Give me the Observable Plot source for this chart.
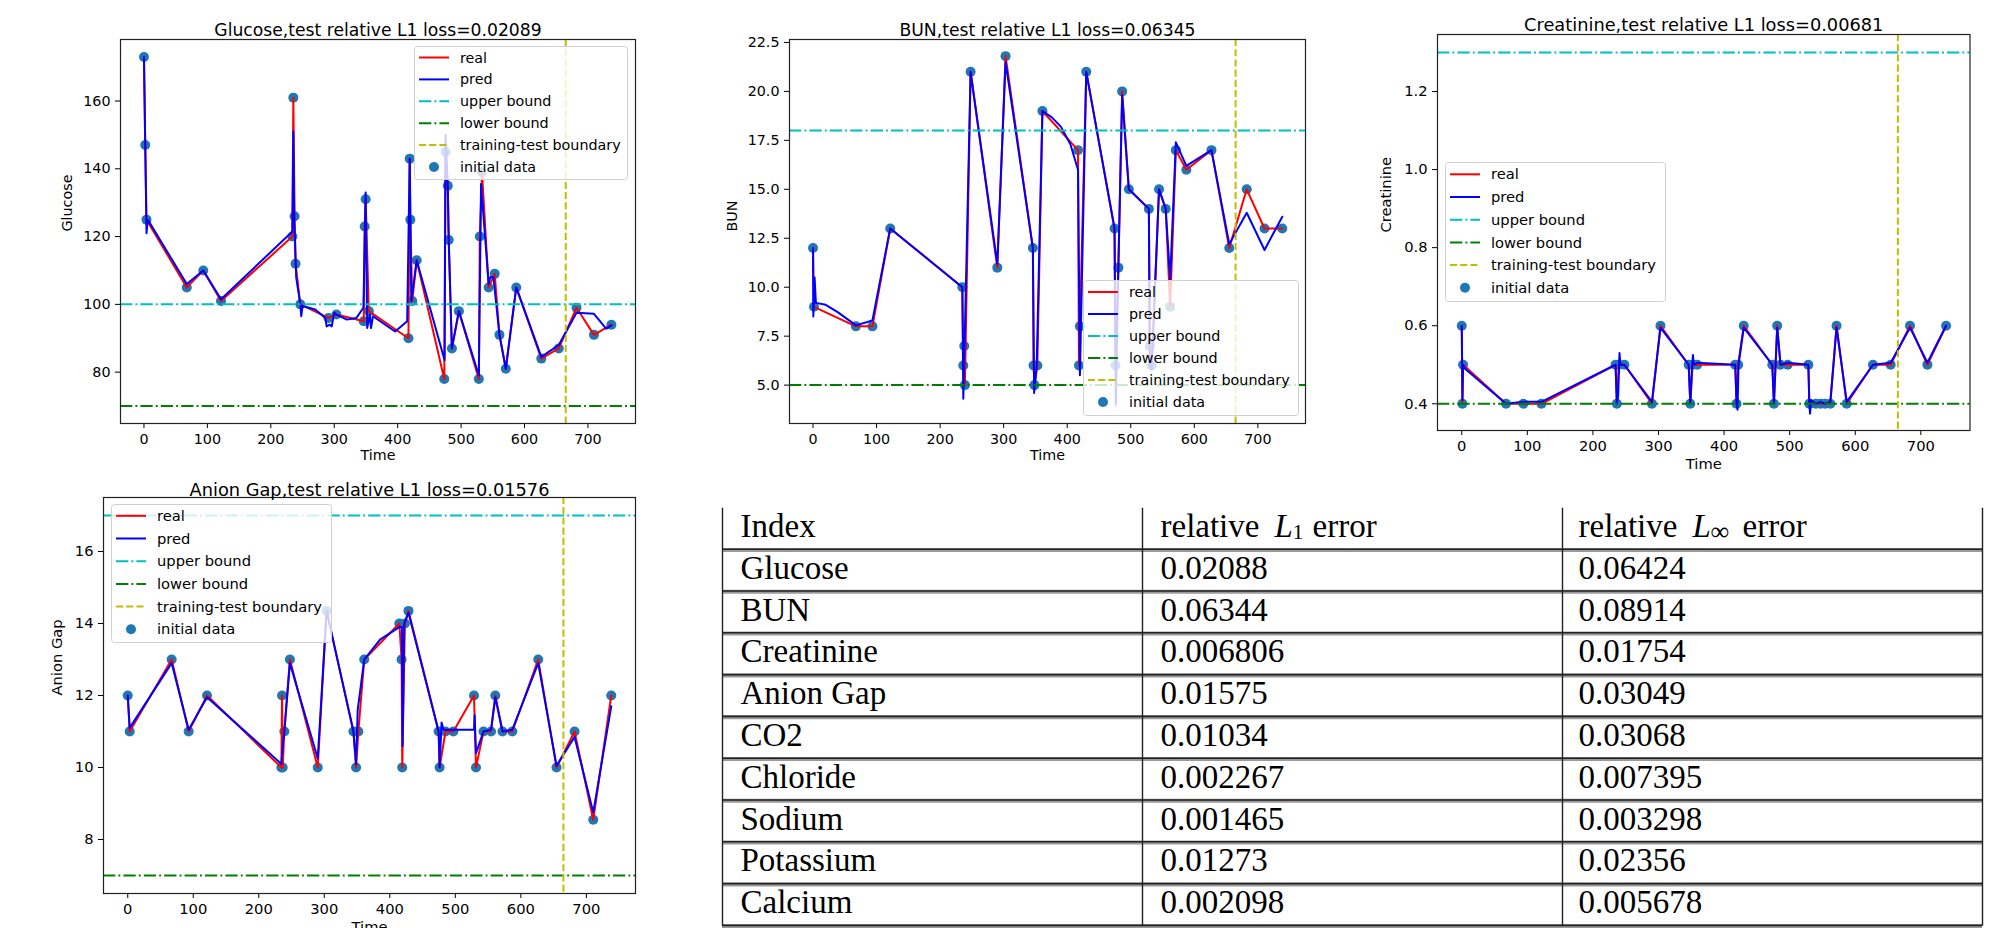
<!DOCTYPE html>
<html><head><meta charset="utf-8">
<script src="https://cdn.jsdelivr.net/npm/d3@7"></script>
<script src="https://cdn.jsdelivr.net/npm/@observablehq/plot@0.6"></script>
<style>
html,body{margin:0;padding:0;background:#fff;}
body{width:2010px;height:928px;position:relative;overflow:hidden;font-family:"DejaVu Sans";}
.panel{position:absolute;overflow:hidden;}
.panel svg{position:absolute;max-width:none;}
</style></head><body>
<script>
// ---------- data ----------
const xTicks = [0, 100, 200, 300, 400, 500, 600, 700];
const boundaryTime = 665;
const legendLabels = ["real", "pred", "upper bound", "lower bound", "training-test boundary", "initial data"];

// Glucose
const glucoseT = [0, 2, 4, 67.5, 93.5, 121.5, 234, 235.5, 237.5, 239, 246.5, 291, 303.5, 346.5, 348, 349.5, 354.5, 417, 419, 420, 423, 430, 473.5, 475.5, 479, 480.5, 485.5, 496.5, 528, 529.5, 533, 543.5, 553, 560.5, 570.5, 587, 626.5, 654, 682, 709.5, 737];
const glucoseV = [173, 147, 125, 105, 110, 101, 120, 161, 126, 112, 100, 96, 97, 95, 123, 131, 98, 90, 143, 125, 101, 113, 78, 145, 135, 119, 87, 98, 78, 120, 139, 105, 109, 91, 81, 105, 84, 87, 99, 91, 94];
const glucosePredT = [0, 2, 4, 6, 67.5, 93.5, 121.5, 234, 235.5, 237, 240, 246.5, 248, 250, 270, 286, 288, 293, 296, 300, 303.5, 320, 335, 346, 349.5, 352, 356, 358, 361, 396, 415, 419, 421.5, 430, 474, 475.5, 479, 480.5, 485.5, 496.5, 528, 531.5, 543.5, 546, 551, 560.5, 570.5, 587, 626.5, 654, 682, 709.5, 729, 737];
const glucosePredV = [173, 147, 121, 125, 106, 110, 101.5, 121.5, 151, 125, 108, 100, 96.5, 99.5, 98.5, 96, 93.5, 94, 93.5, 97.5, 97, 95.5, 96, 99, 133, 93, 97, 93, 96.5, 92, 95, 143, 101, 113, 83.5, 150, 135, 119, 87, 98, 79, 135.5, 106, 108, 108, 91, 81, 105, 84.5, 88, 97.5, 97.2, 92.8, 93.8];
const glucoseBounds = [100, 70];
const glucoseTicks = [80, 100, 120, 140, 160];

// BUN
const bunT = [0, 1.5, 67.5, 93.5, 121.5, 235, 236.5, 238, 239, 248, 290, 303, 346, 347, 348.5, 353, 361, 417, 418.5, 420, 430, 474.5, 476, 480.5, 486.5, 497, 528.5, 530, 533, 544.5, 555, 562, 571, 587.5, 627, 655, 682.5, 710.5, 738.5];
const bunV = [12, 9, 8, 8, 13, 10, 6, 7, 5, 21, 11, 21.8, 12, 6, 5, 6, 19, 17, 6, 8, 21, 13, 6, 11, 20, 15, 14, 7, 6, 15, 14, 9, 17, 16, 17, 12, 15, 13, 13];
const bunPredT = [0, 0.5, 2.5, 4.5, 20, 40, 67.5, 93.5, 121.5, 235, 236.5, 238.5, 248, 290, 303, 346, 348, 352, 361, 375, 390, 405, 417, 420, 430, 474.5, 476.5, 480.5, 486.5, 497, 528.5, 530, 533, 544.5, 555, 562, 571, 587.5, 627, 655, 682.5, 710.5, 738.5];
const bunPredV = [12, 8.5, 10.5, 9.2, 9.1, 8.7, 8.05, 8.3, 13, 10, 4.3, 7, 21, 11.2, 21.5, 12, 4.6, 6, 19, 18.7, 18.2, 17.3, 16, 5.5, 21, 13, 4, 11, 19.8, 15, 14, 6, 5.8, 15, 14, 10.4, 17.4, 16.2, 17, 12.2, 13.8, 11.9, 13.6];
const bunBounds = [18, 5];
const bunTicks = [5, 7.5, 10, 12.5, 15, 17.5, 20, 22.5];

// Creatinine
const creatT = [0, 1, 2, 67.5, 94, 121.5, 234.5, 236.5, 239.5, 248, 290, 303, 346, 348.5, 352, 359, 417, 419, 421.5, 430, 473.5, 476, 481, 486, 497, 528.5, 530, 540, 547, 554, 562, 571.5, 587, 627, 654, 683.5, 710, 738.5];
const creatV = [0.6, 0.4, 0.5, 0.4, 0.4, 0.4, 0.5, 0.4, 0.5, 0.5, 0.4, 0.6, 0.5, 0.4, 0.5, 0.5, 0.5, 0.4, 0.5, 0.6, 0.5, 0.4, 0.6, 0.5, 0.5, 0.5, 0.4, 0.4, 0.4, 0.4, 0.4, 0.6, 0.4, 0.5, 0.5, 0.6, 0.5, 0.6];
const creatPredT = [0, 1, 2, 5, 67.5, 94, 121.5, 234.5, 236.5, 238.5, 240.5, 242, 248, 290, 303, 346, 348.5, 351, 352.5, 354, 359, 417, 419, 420.5, 422, 430, 473.5, 476, 481, 486, 497, 528.5, 530, 531, 533, 540, 547, 554, 562, 571.5, 587, 627, 654, 683.5, 710, 738.5];
const creatPredV = [0.6, 0.41, 0.5, 0.49, 0.4, 0.405, 0.405, 0.5, 0.4, 0.42, 0.53, 0.5, 0.5, 0.405, 0.595, 0.5, 0.4, 0.49, 0.525, 0.5, 0.505, 0.5, 0.4, 0.385, 0.5, 0.595, 0.5, 0.4, 0.595, 0.5, 0.505, 0.5, 0.4, 0.375, 0.41, 0.4, 0.405, 0.4, 0.405, 0.595, 0.405, 0.5, 0.505, 0.595, 0.505, 0.6];
const creatBounds = [1.3, 0.4];
const creatTicks = [0.4, 0.6, 0.8, 1.0, 1.2];

// Anion Gap
const anionT = [0, 3, 67, 93, 121, 234.5, 235.5, 236.5, 239, 247.5, 290, 303.5, 344.5, 348.5, 352, 361, 414.5, 418, 419, 423, 428.5, 474.5, 476, 485, 497, 528.5, 531.5, 543, 554.5, 561, 572, 587, 626.5, 654.5, 682, 710.5, 738];
const anionV = [12, 11, 13, 11, 12, 10, 12, 10, 11, 13, 10, 14.35, 11, 10, 11, 13, 14, 13, 10, 14, 14.35, 11, 10, 11, 11, 12, 10, 11, 11, 12, 11, 11, 13, 10, 11, 8.55, 12];
const anionPredT = [0, 3, 67, 93, 121, 234.5, 237, 239, 247.5, 290, 303.5, 344.5, 348.5, 351, 361, 385, 414.5, 418.5, 419.5, 422, 428.5, 474.5, 476, 479, 482, 528.5, 529.5, 531.5, 543, 554.5, 561, 572, 587, 626.5, 654.5, 682, 710.5, 738];
const anionPredV = [12, 11.1, 12.9, 11.05, 11.95, 10.1, 10.7, 11, 12.9, 10.25, 14.35, 11, 10.1, 11.6, 13, 13.55, 13.9, 13.9, 10.6, 14, 14.3, 11, 10, 11.25, 11.05, 11.05, 11.45, 10.4, 11, 11.05, 11.95, 11, 11.05, 12.9, 10.05, 10.85, 8.75, 11.7];
const anionBounds = [17, 7];
const anionTicks = [8, 10, 12, 14, 16];

// Table
const tableIndex = ["Glucose", "BUN", "Creatinine", "Anion Gap", "CO2", "Chloride", "Sodium", "Potassium", "Calcium"];
const tableL1 = ["0.02088", "0.06344", "0.006806", "0.01575", "0.01034", "0.002267", "0.001465", "0.01273", "0.002098"];
const tableLinf = ["0.06424", "0.08914", "0.01754", "0.03049", "0.03068", "0.007395", "0.003298", "0.02356", "0.005678"];
const tableHeadIndex = "Index";
const tableHeadWord = "relative";
const tableHeadVar = "L";
const tableHeadSubs = ["1", "\u221E"];
const tableHeadTail = "error";

// ---------- drawing ----------
const zipRows = (T, V) => T.map((t, i) => ({t, v: V[i]}));
const dashDot = "12.3,3.1,1.9,3.1";
const dashed = "7.1,3.1";

function panel(cfg) {
  const real = zipRows(cfg.T, cfg.V);
  const pred = zipRows(cfg.PT, cfg.PV);
  const chart = Plot.plot({
    width: cfg.w, height: cfg.h,
    marginLeft: cfg.ml, marginRight: cfg.mr, marginTop: cfg.mt, marginBottom: cfg.mb,
    style: {fontFamily: "DejaVu Sans", fontSize: cfg.fs + "px", color: "#000", background: "transparent", overflow: "visible", maxWidth: "none"},
    x: {domain: [-37, 775], ticks: xTicks, tickFormat: "d", tickSize: 5, tickPadding: 5, label: null},
    y: {domain: cfg.ydomain, ticks: cfg.yticks, tickFormat: cfg.yfmt, tickSize: 5, tickPadding: 5, label: null},
    marks: [
      Plot.dot(real, {x: "t", y: "v", r: 5, fill: "#1f77b4"}),
      Plot.line(real, {x: "t", y: "v", stroke: "#ff0000", strokeWidth: 2}),
      Plot.line(pred, {x: "t", y: "v", stroke: "#0000ff", strokeWidth: 2}),
      Plot.ruleY([cfg.bounds[0]], {stroke: "#00bfbf", strokeWidth: 2, strokeDasharray: dashDot}),
      Plot.ruleY([cfg.bounds[1]], {stroke: "#008000", strokeWidth: 2, strokeDasharray: dashDot}),
      Plot.ruleX([boundaryTime], {stroke: "#bfbf00", strokeWidth: 2, strokeDasharray: dashed}),
      Plot.frame({stroke: "#222", strokeWidth: 1.2}),
      Plot.text([cfg.title], {text: d => d, frameAnchor: "top", dy: cfg.titleDy, fontSize: cfg.tfs}),
      Plot.text(["Time"], {text: d => d, frameAnchor: "bottom", dy: cfg.xlDy}),
      Plot.text([cfg.ylabel], {text: d => d, frameAnchor: "left", dx: cfg.ylDx, rotate: -90})
    ]
  });
  const box = document.createElement("div");
  box.className = "panel";
  Object.assign(box.style, {left: cfg.left + "px", top: cfg.top + "px", width: cfg.w + "px", height: cfg.boxH + "px"});
  chart.style.left = "0px";
  chart.style.top = (cfg.svgTop || 0) + "px";
  box.appendChild(chart);
  document.body.appendChild(box);
}

function legend(lg) {
  const svg = d3.select("body").append("svg")
    .style("position", "absolute").style("left", lg.left + "px").style("top", lg.top + "px")
    .attr("width", lg.w).attr("height", lg.h);
  svg.append("rect").attr("x", 0.5).attr("y", 0.5).attr("width", lg.w - 1).attr("height", lg.h - 1)
    .attr("rx", 3).attr("fill", "rgba(255,255,255,0.8)").attr("stroke", "#d0d0d0");
  const styles = [
    {stroke: "#ff0000"}, {stroke: "#0000ff"},
    {stroke: "#00bfbf", dash: dashDot}, {stroke: "#008000", dash: dashDot},
    {stroke: "#bfbf00", dash: dashed}, {dot: true}
  ];
  legendLabels.forEach((lab, i) => {
    const y = lg.first + i * lg.gap;
    const s = styles[i];
    if (s.dot) {
      svg.append("circle").attr("cx", 20).attr("cy", y).attr("r", 5).attr("fill", "#1f77b4");
    } else {
      svg.append("line").attr("x1", 5).attr("x2", 35).attr("y1", y).attr("y2", y)
        .attr("stroke", s.stroke).attr("stroke-width", 2).attr("stroke-dasharray", s.dash || null);
    }
    svg.append("text").attr("x", 46).attr("y", y).attr("dy", "0.35em")
      .attr("font-family", "DejaVu Sans").attr("font-size", lg.fs).attr("fill", "#000").text(lab);
  });
}

panel({title: "Glucose,test relative L1 loss=0.02089", ylabel: "Glucose",
  T: glucoseT, V: glucoseV, PT: glucosePredT, PV: glucosePredV, bounds: glucoseBounds,
  ydomain: [64.85, 178.15], yticks: glucoseTicks, yfmt: "d",
  left: 0, top: 0, w: 660, h: 476, boxH: 476, ml: 120, mr: 25, mt: 39, mb: 53,
  fs: 14.3, tfs: 17.2, titleDy: -16, xlDy: 36, ylDx: -53});

panel({title: "BUN,test relative L1 loss=0.06345", ylabel: "BUN",
  T: bunT, V: bunV, PT: bunPredT, PV: bunPredV, bounds: bunBounds,
  ydomain: [3.04, 22.65], yticks: bunTicks, yfmt: ".1f",
  left: 700, top: 0, w: 630, h: 476, boxH: 476, ml: 89, mr: 25, mt: 39, mb: 53,
  fs: 14.3, tfs: 17.2, titleDy: -16, xlDy: 36, ylDx: -57});

panel({title: "Creatinine,test relative L1 loss=0.00681", ylabel: "Creatinine",
  T: creatT, V: creatV, PT: creatPredT, PV: creatPredV, bounds: creatBounds,
  ydomain: [0.3316, 1.346], yticks: creatTicks, yfmt: ".1f",
  left: 1340, top: 0, w: 670, h: 476, boxH: 476, ml: 97, mr: 40.5, mt: 34, mb: 46,
  fs: 14.7, tfs: 17.8, titleDy: -16, xlDy: 38, ylDx: -51});

panel({title: "Anion Gap,test relative L1 loss=0.01576", ylabel: "Anion Gap",
  T: anionT, V: anionV, PT: anionPredT, PV: anionPredV, bounds: anionBounds,
  ydomain: [6.5, 17.5], yticks: anionTicks, yfmt: "d",
  left: 0, top: 480, w: 660, h: 480, boxH: 448, svgTop: -20, ml: 103, mr: 25, mt: 37, mb: 47,
  fs: 14.7, tfs: 17.8, titleDy: -14, xlDy: 38, ylDx: -46});

legend({left: 414, top: 46, w: 214, h: 134, first: 11.5, gap: 21.9, fs: 14.3});
legend({left: 1083, top: 280, w: 216, h: 136, first: 12, gap: 22, fs: 14.3});
legend({left: 1445, top: 162, w: 221, h: 140, first: 12.3, gap: 22.7, fs: 14.7});
legend({left: 111, top: 504, w: 221, h: 139, first: 11.8, gap: 22.7, fs: 14.7});

// table
const tableRows = tableIndex.map((name, i) => ({row: i + 1, name, l1: tableL1[i], linf: tableLinf[i]}));
const rowY = d => d.row + 0.5;
const tbl = Plot.plot({
  width: 1300, height: 428, marginLeft: 22, marginRight: 18, marginTop: 7.7, marginBottom: 2.3,
  x: {domain: [0, 3], axis: null}, y: {domain: [0, 10], reverse: true, axis: null},
  style: {fontFamily: "Liberation Serif", fontSize: "33px", color: "#000", background: "transparent", overflow: "visible", maxWidth: "none"},
  marks: [
    Plot.ruleY(d3.range(1, 11), {stroke: "#9a9a9a", strokeWidth: 4}),
    Plot.ruleY(d3.range(1, 11), {stroke: "#222", strokeWidth: 1.6, dy: -0.8}),
    Plot.ruleX([0, 1, 2, 3], {stroke: "#222", strokeWidth: 1.4}),
    Plot.text(tableRows, {x: () => 0, y: rowY, text: "name", textAnchor: "start", dx: 18, dy: -2.7}),
    Plot.text(tableRows, {x: () => 1, y: rowY, text: "l1", textAnchor: "start", dx: 18, dy: -2.7}),
    Plot.text(tableRows, {x: () => 2, y: rowY, text: "linf", textAnchor: "start", dx: 16, dy: -2.7}),
    Plot.text([tableHeadIndex], {x: () => 0, y: () => 0.5, text: d => d, textAnchor: "start", dx: 18, dy: -2.7}),
    Plot.text([tableHeadWord], {x: () => 1, y: () => 0.5, text: d => d, textAnchor: "start", dx: 18, dy: -2.7}),
    Plot.text([tableHeadVar], {x: () => 1, y: () => 0.5, text: d => d, textAnchor: "start", dx: 132, dy: -2.7, fontStyle: "italic"}),
    Plot.text([tableHeadSubs[0]], {x: () => 1, y: () => 0.5, text: d => d, textAnchor: "start", dx: 150, dy: 3, fontSize: 22}),
    Plot.text([tableHeadTail], {x: () => 1, y: () => 0.5, text: d => d, textAnchor: "start", dx: 170, dy: -2.7}),
    Plot.text([tableHeadWord], {x: () => 2, y: () => 0.5, text: d => d, textAnchor: "start", dx: 16, dy: -2.7}),
    Plot.text([tableHeadVar], {x: () => 2, y: () => 0.5, text: d => d, textAnchor: "start", dx: 130, dy: -2.7, fontStyle: "italic"}),
    Plot.text([tableHeadSubs[1]], {x: () => 2, y: () => 0.5, text: d => d, textAnchor: "start", dx: 148, dy: 3, fontSize: 26}),
    Plot.text([tableHeadTail], {x: () => 2, y: () => 0.5, text: d => d, textAnchor: "start", dx: 180, dy: -2.7})
  ]
});
tbl.style.position = "absolute";
tbl.style.left = "700px";
tbl.style.top = "500px";
document.body.appendChild(tbl);
</script>
</body></html>
